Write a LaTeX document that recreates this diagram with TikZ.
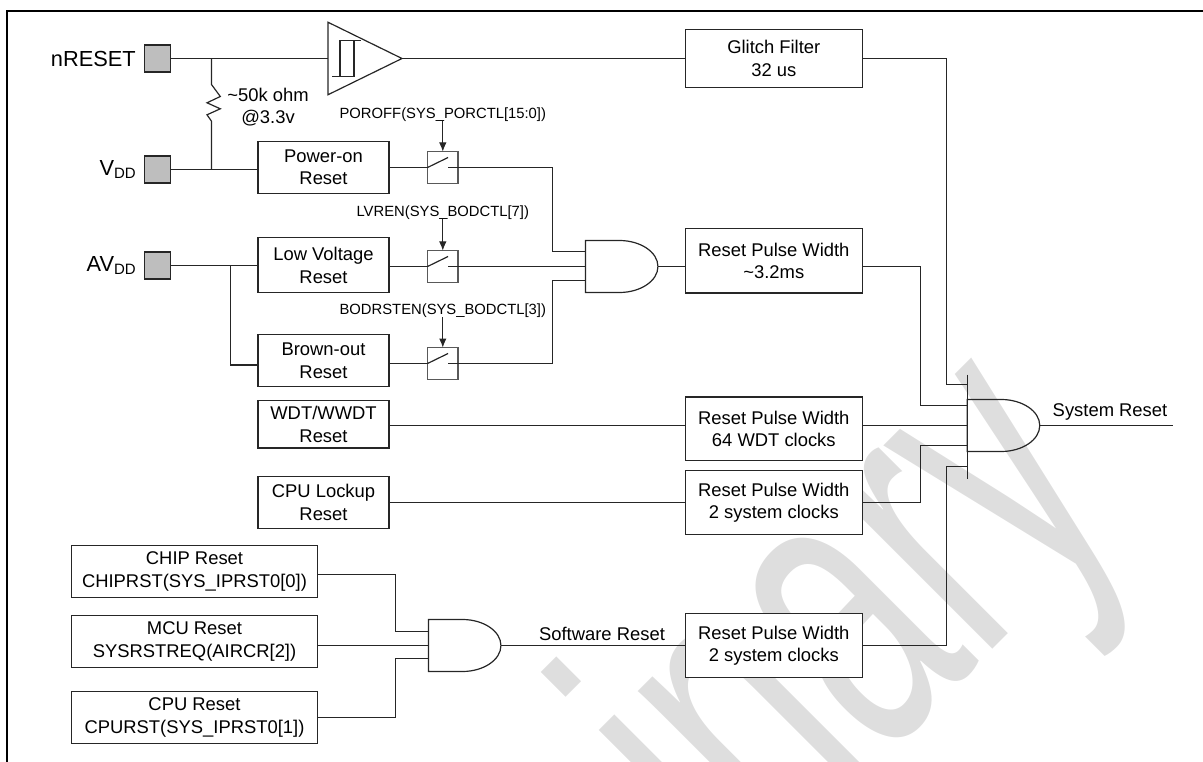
\documentclass[tikz,border=0pt]{standalone}
\usepackage{fontspec}
\setmainfont{Liberation Sans}
\usepackage{xcolor}
\usetikzlibrary{arrows.meta,positioning,calc}
\definecolor{wirecolor}{HTML}{262626}
\definecolor{padgray}{HTML}{BEBEBE}
\definecolor{markgray}{HTML}{DEDEDE}
\tikzset{
  resetbox/.style={draw=wirecolor,fill=white,line width=1.2pt,align=center,outer sep=0pt,inner sep=0pt,
    minimum width=131pt,minimum height=52.3pt,font=\fontsize{18.4}{22.5}\selectfont},
  pulsebox/.style={resetbox,minimum width=177pt,minimum height=63.5pt},
  softbox/.style={resetbox,minimum width=245.7pt},
  padbox/.style={draw=wirecolor,fill=padgray,line width=1.2pt,outer sep=0pt,minimum width=26pt,minimum height=27pt},
  padlabel/.style={inner sep=0pt,font=\fontsize{21.8}{24}\selectfont},
  switchbox/.style={draw=black!65,line width=1.2pt,outer sep=0pt,minimum width=30.5pt,minimum height=32pt},
  gatebody/.style={outer sep=0pt,inner sep=0pt,minimum width=72.5pt,minimum height=52pt},
  ctrllabel/.style={inner sep=0pt,font=\fontsize{14.8}{17}\selectfont},
  wirelabel/.style={inner sep=0pt,align=center,font=\fontsize{18.4}{22}\selectfont},
  wire/.style={draw=wirecolor,line width=1.2pt},
  ctrlarrow/.style={-{Latex[length=9pt,width=7.5pt]},draw=wirecolor,line width=1pt}
}
\newcommand{\andoutline}[1]{%
  \draw[wire] (#1.south west) -- (#1.north west) -- ++(34,0)
    .. controls +(21,0) and +(0,-14.4) .. (#1.east)
    .. controls +(0,14.4) and +(21,0) .. ($(#1.south west)+(34,0)$) -- cycle;}
\begin{document}
\begin{tikzpicture}[x=1pt,y=-1pt]
  \useasboundingbox (0,0) rectangle (1203,762);
  \clip (0,0) rectangle (1203,762);
  % watermark and frame
  \node[rotate=45,anchor=base east,inner sep=0pt,text=markgray,font=\fontsize{418}{418}\selectfont] (mark) at (1128,514) {\scalebox{0.6}[1]{inary}};
  \draw[line width=2.2pt,black] (7,762) -- (7,11) -- (1203,11);
  % pads
  \node[padbox] (padreset) at (157.7,58.5) {};
  \node[padbox] (padvdd) at (157.7,169.5) {};
  \node[padbox] (padavdd) at (157.7,265.5) {};
  \node[padlabel,left=8.7pt of padreset] (lblreset) {nRESET};
  \node[padlabel,left=8.7pt of padvdd] (lblvdd) {V\raisebox{-3pt}{\fontsize{15}{15}\selectfont DD}};
  \node[padlabel,left=8.7pt of padavdd] (lblavdd) {AV\raisebox{-3pt}{\fontsize{15}{15}\selectfont DD}};
  % reset sources
  \node[resetbox] (power) at (323.5,167.5) {Power-on\\Reset};
  \node[resetbox,minimum height=55pt,below=44.2pt of power] (lowvolt) {Low Voltage\\Reset};
  \node[resetbox,below=41.7pt of lowvolt] (brown) {Brown-out\\Reset};
  \node[resetbox,minimum height=47.3pt] (wdt) at (323.5,424.3) {WDT/WWDT\\Reset};
  \node[resetbox,below=28.4pt of wdt] (lockup) {CPU Lockup\\Reset};
  \node[softbox] (chip) at (194.5,571.3) {CHIP Reset\\CHIPRST(SYS\_IPRST0[0])};
  \node[softbox,below=18pt of chip] (mcu) {MCU Reset\\SYSRSTREQ(AIRCR[2])};
  \node[softbox,below=23.7pt of mcu] (cpu) {CPU Reset\\CPURST(SYS\_IPRST0[1])};
  % pulse boxes
  \node[pulsebox,minimum height=58.6pt] (glitch) at (773.8,58.5) {Glitch Filter\\32 us};
  \node[pulsebox,minimum height=64.7pt] (pulsepor) at (773.8,260.7) {Reset Pulse Width\\\textasciitilde3.2ms};
  \node[pulsebox,below=104pt of pulsepor] (pulsewdt) {Reset Pulse Width\\64 WDT clocks};
  \node[pulsebox,below=10.2pt of pulsewdt] (pulselock) {Reset Pulse Width\\2 system clocks};
  \node[pulsebox,below=79.5pt of pulselock] (pulsesoft) {Reset Pulse Width\\2 system clocks};
  % switches
  \node[switchbox] (swpor) at (442.8,167.5) {};
  \node[switchbox] (swlvr) at (442.8,266.5) {};
  \node[switchbox] (swbod) at (442.8,363.5) {};
  \foreach \sw in {swpor,swlvr,swbod}{
    \draw[wire] (\sw.west) -- ++(20.5,-10);
    \draw[wire] (\sw.east) -- ++(-10.5,0);
  }
  \node[ctrllabel,above=30pt of swpor] (ctlpor) {POROFF(SYS\_PORCTL[15:0])};
  \node[ctrllabel,above=31pt of swlvr] (ctllvr) {LVREN(SYS\_BODCTL[7])};
  \node[ctrllabel,above=30pt of swbod] (ctlbod) {BODRSTEN(SYS\_BODCTL[3])};
  \draw[ctrlarrow] (ctlpor) -- (swpor);
  \draw[ctrlarrow] (ctllvr) -- (swlvr);
  \draw[ctrlarrow] (ctlbod) -- (swbod);
  % gates
  \node[minimum width=74pt,minimum height=72.5pt,outer sep=0pt,inner sep=0pt] (buffer) at (365,58.5) {};
  \draw[wire] (buffer.north west) -- (buffer.east) -- (buffer.south west) -- cycle;
  \draw[wire] ($(buffer.west)+(32.7,-18)$) -- ($(buffer.west)+(12,-18)$) -- ($(buffer.west)+(12,18)$);
  \draw[wire] ($(buffer.west)+(4,18)$) -- ($(buffer.west)+(26,18)$) -- ($(buffer.west)+(26,-18)$);
  \node[gatebody] (andpor) at (621.7,266.5) {};
  \node[gatebody] (andsoft) at (464.7,645.5) {};
  \node[gatebody] (andsys) at (1003.5,425.5) {};
  \andoutline{andpor}
  \andoutline{andsoft}
  \andoutline{andsys}
  \draw[wire] ($(andsys.west)+(0,-51)$) -- ($(andsys.west)+(0,53)$);
  % wires at the pads
  \coordinate (junres) at (211.5,58.5);
  \coordinate (junavdd) at (230.5,265.5);
  \draw[wire] (padreset) -- (buffer.west);
  \draw[wire] (junres) -- ++(0,26) -- ++(8.8,12) -- ++(-13.3,6.3) -- ++(13.3,6) -- ++(-13.3,6) -- ++(4.5,6.4) -- (junres |- padvdd.east);
  \draw[wire] (padvdd.east) -- (padvdd.east -| power.west);
  \draw[wire] (padavdd.east) -- (padavdd.east -| lowvolt.west);
  \draw[wire] (junavdd) |- ($(brown.west)+(0,4.2)$);
  \node[wirelabel] (resval) at (268,107) {\textasciitilde50k ohm\\@3.3v};
  % gate inputs and buses
  \coordinate (porbus) at (552.5,0);
  \coordinate (softbus) at (395.5,0);
  \coordinate (sysbusa) at (920.5,0);
  \coordinate (sysbusb) at (946.5,0);
  \coordinate (porin) at (585.5,251.5);
  \coordinate (bodin) at (585.5,280.5);
  \coordinate (chipout) at (317.3,574.5);
  \coordinate (chipin) at (428.4,631.5);
  \coordinate (mcuin) at (428.4,645.5);
  \coordinate (cpuin) at (428.4,658.5);
  \coordinate (sysina) at (967.2,384.5);
  \coordinate (sysinb) at (967.2,405.5);
  \coordinate (sysind) at (967.2,445.5);
  \coordinate (sysine) at (967.2,466.5);
  \draw[wire] (power.east) -- (swpor.west);
  \draw[wire] (swpor.east) -| (porbus |- porin) -- (porin);
  \draw[wire] (swlvr.west -| lowvolt.east) -- (swlvr.west);
  \draw[wire] (swlvr.east) -- (swlvr.east -| andpor.west);
  \draw[wire] (swbod.west -| brown.east) -- (swbod.west);
  \draw[wire] (swbod.east) -| (porbus |- bodin) -- (bodin);
  \draw[wire] (andpor.east) -- (andpor.east -| pulsepor.west);
  \draw[wire] (buffer.east) -- (glitch.west);
  \draw[wire] (glitch.east) -| (sysbusb |- sysina) -- (sysina);
  \draw[wire] (andpor.east -| pulsepor.east) -| (sysbusa |- sysinb) -- (sysinb);
  \draw[wire] (andsys.west -| wdt.east) -- (andsys.west -| pulsewdt.west);
  \draw[wire] (andsys.west -| pulsewdt.east) -- (andsys.west);
  \draw[wire] (lockup.east) -- (pulselock.west);
  \draw[wire] (pulselock.east) -| (sysbusa |- sysind) -- (sysind);
  \draw[wire] (pulsesoft.east) -| (sysbusb |- sysine) -- (sysine);
  \draw[wire] (chipout) -| (softbus |- chipin) -- (chipin);
  \draw[wire] (mcuin -| mcu.east) -- (mcuin);
  \draw[wire] (cpu.east) -| (softbus |- cpuin) -- (cpuin);
  \draw[wire] (andsoft.east) -- (andsoft.east -| pulsesoft.west);
  \coordinate (sysout) at (1173,425.5);
  \draw[wire] (andsys.east) -- (sysout);
  \node[wirelabel] (lblsoft) at (602,634) {Software Reset};
  \node[wirelabel] (lblsys) at (1110,411.7) {System Reset};
\end{tikzpicture}
\end{document}
